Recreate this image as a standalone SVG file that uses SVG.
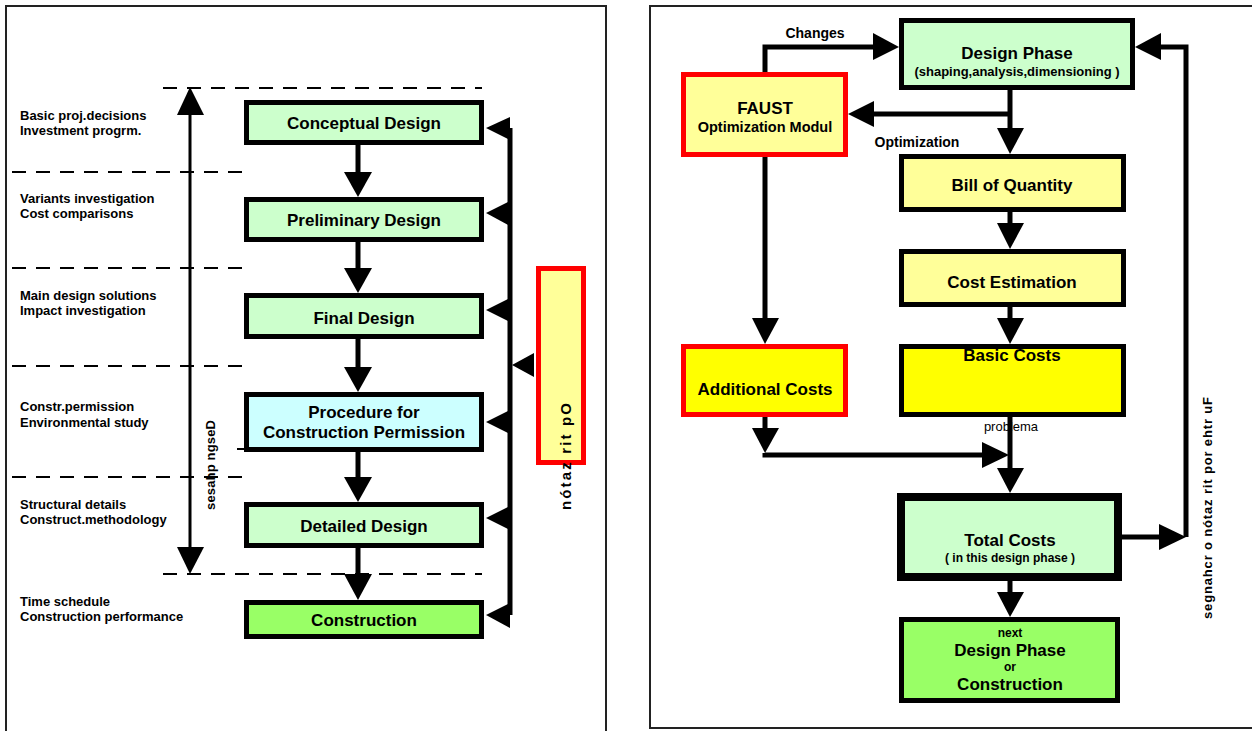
<svg xmlns="http://www.w3.org/2000/svg" width="1252" height="731" viewBox="0 0 1252 731">
<style>
.panel{fill:#fff;stroke:#222;stroke-width:2}
.box{stroke:#000;stroke-width:5}
.redbox{stroke:#ff0000;stroke-width:5}
.thick{stroke:#000;stroke-width:8}
.g1{fill:#ccffcc}.cy{fill:#ccffff}.ly{fill:#ffff99}.yy{fill:#ffff00}.gg{fill:#99ff66}
.t17{font-family:"Liberation Sans",Arial,sans-serif;font-weight:bold;font-size:17px;text-anchor:middle;fill:#000}
.t14{font-family:"Liberation Sans",Arial,sans-serif;font-weight:bold;font-size:14px;text-anchor:middle;fill:#000}
.t13{font-family:"Liberation Sans",Arial,sans-serif;font-weight:bold;font-size:13px;fill:#000}
.t12{font-family:"Liberation Sans",Arial,sans-serif;font-weight:bold;font-size:12px;text-anchor:middle;fill:#000}
.mid{text-anchor:middle}
.ln{stroke:#000;stroke-width:5;fill:none}
.dash{stroke:#000;stroke-width:2;stroke-dasharray:14 10;fill:none}
.ah{fill:#000}
</style>
<rect class="panel" x="6" y="6" width="600" height="740"/>
<rect class="panel" x="650" y="6" width="620" height="722"/>

<g id="left-labels">
<text class="t13" x="20" y="120">Basic proj.decisions</text>
<text class="t13" x="20" y="135">Investment progrm.</text>
<text class="t13" x="20" y="203">Variants investigation</text>
<text class="t13" x="20" y="218">Cost comparisons</text>
<text class="t13" x="20" y="300">Main design solutions</text>
<text class="t13" x="20" y="315">Impact investigation</text>
<text class="t13" x="20" y="411">Constr.permission</text>
<text class="t13" x="20" y="427">Environmental study</text>
<text class="t13" x="20" y="509">Structural details</text>
<text class="t13" x="20" y="524">Construct.methodology</text>
<text class="t13" x="20" y="606">Time schedule</text>
<text class="t13" x="20" y="621">Construction performance</text>
<text class="t13" transform="translate(215,510) rotate(-90)" textLength="90" lengthAdjust="spacing">sesahp ngseD</text>
</g>

<g id="phase-lines">
<line class="dash" x1="163" y1="88" x2="482" y2="88"/>
<line class="dash" x1="12" y1="172" x2="247" y2="172"/>
<line class="dash" x1="12" y1="268" x2="247" y2="268"/>
<line class="dash" x1="12" y1="366" x2="247" y2="366"/>
<line class="dash" x1="12" y1="477" x2="247" y2="477"/>
<line class="dash" x1="163" y1="574" x2="482" y2="574"/>
<line stroke="#000" stroke-width="2" x1="237" y1="449" x2="245" y2="449"/>
</g>

<g id="conceptual-design"><rect class="box g1" x="246.5" y="102.5" width="235" height="40"/><text class="t17" x="364" y="129">Conceptual Design</text></g>
<g id="preliminary-design"><rect class="box g1" x="246.5" y="199.5" width="235" height="40"/><text class="t17" x="364" y="226">Preliminary Design</text></g>
<g id="final-design"><rect class="box g1" x="246.5" y="295.5" width="235" height="41"/><text class="t17" x="364" y="324">Final Design</text></g>
<g id="procedure"><rect class="box cy" x="246.5" y="394.5" width="235" height="55"/><text class="t17" x="364" y="418">Procedure for</text><text class="t17" x="364" y="438">Construction Permission</text></g>
<g id="detailed-design"><rect class="box g1" x="246.5" y="504.5" width="235" height="41"/><text class="t17" x="364" y="532">Detailed Design</text></g>
<g id="construction"><rect class="box gg" x="246.5" y="602.5" width="235" height="34"/><text class="t17" x="364" y="626">Construction</text></g>
<g id="optimization-left"><rect class="redbox ly" x="538.5" y="268.5" width="45" height="194"/><text class="t13" style="font-size:15px" transform="translate(571,510) rotate(-90)" textLength="107" lengthAdjust="spacing">nótaz  rit pO</text></g>

<g id="right-labels">
<text class="t14" x="815" y="38">Changes</text>
<text class="t14" x="917" y="147">Optimization</text>
<text class="t13" transform="translate(1212,619) rotate(-90)" textLength="222" lengthAdjust="spacing">segnahcr o nótaz  rit por ehtr uF</text>
<text class="mid" x="1011" y="431" style="font-family:'Liberation Sans',Arial,sans-serif;font-size:13px">problema</text>
</g>

<g id="design-phase"><rect class="box g1" x="901.5" y="20.5" width="231" height="67"/><text class="t17" x="1017" y="59">Design Phase</text><text class="t13 mid" x="1017" y="76">(shaping,analysis,dimensioning )</text></g>
<g id="faust"><rect class="redbox ly" x="683.5" y="74.5" width="162" height="80"/><text class="t17" x="765" y="114">FAUST</text><text class="t14" style="font-size:14.5px" x="765" y="132">Optimization Modul</text></g>
<g id="bill-of-quantity"><rect class="box ly" x="901.5" y="156.5" width="222" height="53"/><text class="t17" x="1012" y="191">Bill of Quantity</text></g>
<g id="cost-estimation"><rect class="box ly" x="901.5" y="251.5" width="222" height="53"/><text class="t17" x="1012" y="288">Cost Estimation</text></g>
<g id="basic-costs"><rect class="box yy" x="901.5" y="346.5" width="222" height="68"/><text class="t17" x="1012" y="361">Basic Costs</text></g>
<g id="additional-costs"><rect class="redbox yy" x="683.5" y="346.5" width="162" height="68"/><text class="t17" x="765" y="395">Additional Costs</text></g>
<g id="total-costs"><rect class="thick g1" x="901" y="497" width="217" height="80"/><text class="t17" x="1010" y="546">Total Costs</text><text class="t12" x="1010" y="562">( in this design phase )</text></g>
<g id="next-phase"><rect class="box gg" x="901.5" y="619.5" width="216" height="81"/><text class="t12" x="1010" y="637">next</text><text class="t17" x="1010" y="656">Design Phase</text><text class="t12" x="1010" y="671">or</text><text class="t17" x="1010" y="690">Construction</text></g>

<g id="connectors">
<line stroke="#000" stroke-width="3" x1="190" y1="100" x2="190" y2="560"/>
<polygon class="ah" points="177,115 204,115 190,87"/>
<polygon class="ah" points="177,547 204,547 190,574"/>
<line class="ln" x1="358" y1="145" x2="358" y2="173"/><polygon class="ah" points="344,172 372,172 358,197"/>
<line class="ln" x1="358" y1="242" x2="358" y2="269"/><polygon class="ah" points="344,268 372,268 358,293"/>
<line class="ln" x1="358" y1="339" x2="358" y2="368"/><polygon class="ah" points="344,367 372,367 358,392"/>
<line class="ln" x1="358" y1="452" x2="358" y2="478"/><polygon class="ah" points="344,477 372,477 358,502"/>
<line class="ln" x1="358" y1="548" x2="358" y2="575"/><polygon class="ah" points="344,574 372,574 358,600"/>
<line class="ln" x1="510" y1="128" x2="510" y2="615"/>
<polygon class="ah" points="510,117 486,128 510,140"/>
<polygon class="ah" points="510,201 486,213 510,226"/>
<polygon class="ah" points="510,298 486,310 510,322"/>
<polygon class="ah" points="534,353 512,365 534,377"/>
<polygon class="ah" points="510,410 486,422 510,434"/>
<polygon class="ah" points="510,506 486,518 510,530"/>
<polygon class="ah" points="510,603 486,615 510,628"/>

<polyline class="ln" points="765,72 765,47 874,47"/><polygon class="ah" points="873,33 899,47 873,60"/>
<line class="ln" x1="1010" y1="90" x2="1010" y2="129"/><polygon class="ah" points="997,128 1024,128 1010,154"/>
<line class="ln" x1="1010" y1="114" x2="873" y2="114"/><polygon class="ah" points="874,101 848,114 874,127"/>
<line class="ln" x1="1010" y1="212" x2="1010" y2="224"/><polygon class="ah" points="997,223 1024,223 1010,249"/>
<line class="ln" x1="1010" y1="307" x2="1010" y2="319"/><polygon class="ah" points="997,318 1024,318 1010,344"/>
<line class="ln" x1="765" y1="157" x2="765" y2="319"/><polygon class="ah" points="752,318 779,318 765,344"/>
<line class="ln" x1="1010" y1="417" x2="1010" y2="469"/><polygon class="ah" points="997,468 1024,468 1010,493"/>
<line class="ln" x1="765" y1="417" x2="765" y2="429"/><polygon class="ah" points="752,428 779,428 765,453"/>
<polyline class="ln" points="765,453 765,455 983,455"/><polygon class="ah" points="982,442 1009,455 982,468"/>
<line class="ln" x1="1010" y1="581" x2="1010" y2="593"/><polygon class="ah" points="997,592 1024,592 1010,617"/>
<line class="ln" x1="1122" y1="537" x2="1160" y2="537"/><polygon class="ah" points="1159,524 1186,537 1159,550"/>
<polyline class="ln" points="1186,537 1186,47 1160,47"/><polygon class="ah" points="1161,33 1135,47 1161,60"/>
</g>
</svg>
